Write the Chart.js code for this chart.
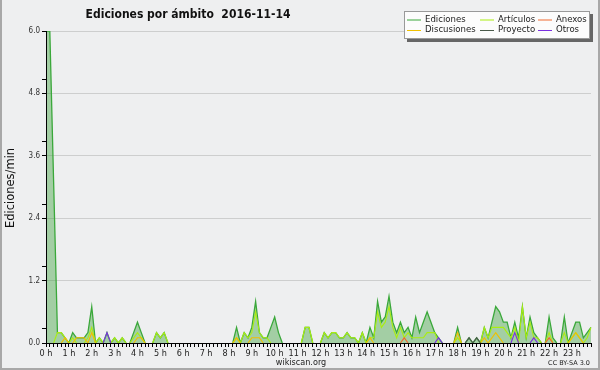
<!DOCTYPE html>
<html>
<head>
<meta charset="utf-8">
<script src="https://cdn.jsdelivr.net/npm/chart.js@4.4.1/dist/chart.umd.min.js"></script>
<style>
  body { margin: 0; background: #eeeff0; }
  canvas { display: block; }
</style>
</head>
<body>
<canvas id="chart" width="600" height="370"></canvas>
<script>
// 10-minute slots over the day, values in edits per minute
const slots = [];
for (let h = 0; h < 24; h++) {
    for (let m = 0; m < 60; m += 10) slots.push(h + ':' + String(m).padStart(2, '0'));
}

const ediciones = [
    6.0,6.0,3.1,0.2,0.2,0.1,0,0.2,0.1,0.1,0.1,0.2, 0.7,0,0.1,0,0.2,0,0.1,0,0.1,0,0,0.2,
    0.4,0.2,0,0,0,0.2,0.1,0.2,0,0,0,0, 0,0,0,0,0,0,0,0,0,0,0,0,
    0,0,0.3,0,0.2,0.1,0.3,0.8,0.2,0.1,0.1,0.3, 0.5,0.2,0,0,0,0,0,0,0.3,0.3,0,0,
    0,0.2,0.1,0.2,0.2,0.1,0.1,0.2,0.1,0.1,0,0.2, 0,0.3,0.1,0.8,0.4,0.5,0.9,0.4,0.2,0.4,0.2,0.3,
    0.1,0.5,0.2,0.4,0.6,0.4,0.2,0.1,0,0,0,0, 0.3,0,0,0.1,0,0.1,0,0.3,0.1,0.4,0.7,0.6,
    0.4,0.4,0.1,0.4,0.1,0.7,0.1,0.5,0.2,0.1,0,0, 0.5,0.1,0,0,0.5,0,0.2,0.4,0.4,0.1,0.2,0.3
];
const articulos = [
    0,0,0,0.2,0.2,0.1,0,0.1,0,0,0,0.1, 0.3,0,0.1,0,0,0,0.1,0,0.1,0,0,0.1,
    0.2,0.1,0,0,0,0.2,0.1,0.2,0,0,0,0, 0,0,0,0,0,0,0,0,0,0,0,0,
    0,0,0.1,0,0.2,0.1,0.2,0.6,0.2,0.1,0.1,0, 0,0,0,0,0,0,0,0,0.3,0.3,0,0,
    0,0.2,0.1,0.2,0.2,0.1,0.1,0.2,0.1,0.1,0,0.2, 0,0.1,0.1,0.6,0.3,0.4,0.7,0.3,0.1,0.3,0.1,0.2,
    0.1,0.1,0.1,0.1,0.2,0.2,0.2,0,0,0,0,0, 0.1,0,0,0,0,0,0,0.3,0.1,0.3,0.3,0.3,
    0.3,0.2,0.1,0.3,0,0.7,0.1,0.4,0.1,0.1,0,0, 0.2,0,0,0,0.2,0,0.1,0.2,0.1,0,0.1,0.3
];
const discusiones = [
    0,0,0,0,0,0.1,0,0,0.1,0.1,0.1,0, 0.2,0,0,0,0,0,0,0,0,0,0,0,
    0.1,0.1,0,0,0,0,0,0,0,0,0,0, 0,0,0,0,0,0,0,0,0,0,0,0,
    0,0,0.1,0,0,0,0.1,0.1,0.1,0,0,0, 0,0,0,0,0,0,0,0,0,0,0,0,
    0,0,0,0,0,0,0,0,0,0,0,0, 0,0.1,0,0,0,0,0,0,0,0,0,0,
    0,0,0,0,0,0,0,0,0,0,0,0, 0.2,0,0,0,0,0,0,0.1,0,0.1,0.2,0.1,
    0,0,0,0,0,0,0,0,0,0,0,0, 0,0,0,0,0,0,0.1,0.2,0.1,0,0,0
];
const anexos = [
    0,0,0,0,0,0,0,0,0,0,0,0, 0,0,0,0,0,0,0,0,0,0,0,0,
    0,0,0,0,0,0,0,0,0,0,0,0, 0,0,0,0,0,0,0,0,0,0,0,0,
    0,0,0,0,0,0,0,0,0,0,0,0, 0,0,0,0,0,0,0,0,0,0,0,0,
    0,0,0,0,0,0,0,0,0,0,0,0, 0,0,0,0,0,0,0,0,0,0,0.1,0,
    0,0,0,0,0,0,0,0,0,0,0,0, 0,0,0,0,0,0,0,0,0,0,0,0,
    0,0,0,0,0,0,0,0,0,0,0,0, 0.1,0,0,0,0,0,0,0,0,0,0,0
];
const proyecto = [
    0,0,0,0,0,0,0,0,0,0,0,0, 0,0,0,0,0,0,0,0,0,0,0,0,
    0,0,0,0,0,0,0,0,0,0,0,0, 0,0,0,0,0,0,0,0,0,0,0,0,
    0,0,0,0,0,0,0,0,0,0,0,0, 0,0,0,0,0,0,0,0,0,0,0,0,
    0,0,0,0,0,0,0,0,0,0,0,0, 0,0,0,0,0,0,0,0,0,0,0,0,
    0,0,0,0,0,0,0,0,0,0,0,0, 0,0,0,0.1,0,0.1,0,0,0,0,0,0,
    0,0,0,0,0,0,0,0,0,0,0,0, 0,0,0,0,0,0,0,0,0,0,0,0
];
const otros = [
    0,0,0,0,0,0,0,0,0,0,0,0, 0,0,0,0,0.2,0,0,0,0,0,0,0,
    0,0,0,0,0,0,0,0,0,0,0,0, 0,0,0,0,0,0,0,0,0,0,0,0,
    0,0,0,0,0,0,0,0,0,0,0,0, 0,0,0,0,0,0,0,0,0,0,0,0,
    0,0,0,0,0,0,0,0,0,0,0,0, 0,0,0,0,0,0,0,0,0,0,0,0,
    0,0,0,0,0,0,0,0.1,0,0,0,0, 0,0,0,0,0,0,0,0,0,0,0,0,
    0,0,0,0.2,0,0,0,0,0.1,0,0,0, 0,0,0,0,0,0,0,0,0,0,0,0
];

const yLabels = [0, 1.2, 2.4, 3.6, 4.8, 6.0];
const yMinor = [0.27, 1.47, 2.67, 3.87, 5.07];

const BG = '#eeeff0';
const COND = '"DejaVu Sans Condensed", "DejaVu Sans", sans-serif';

const series = [
    { label: 'Ediciones', data: ediciones, color: '#3aa83a', fill: 'rgba(60,160,60,0.42)' },
    { label: 'Artículos', data: articulos, color: '#aaee11' },
    { label: 'Discusiones', data: discusiones, color: '#f0c000' },
    { label: 'Anexos', data: anexos, color: '#f06a30' },
    { label: 'Proyecto', data: proyecto, color: '#4a5a4a' },
    { label: 'Otros', data: otros, color: '#7a30e0' }
];

// segments lying flat on zero are hidden (they would sit on the axis)
const hideFlatZero = ctx =>
    (ctx.p0.parsed.y === 0 && ctx.p1.parsed.y === 0 ? 'rgba(0,0,0,0)' : undefined);

// background, frame, title, legend and credits
const decor = {
    id: 'decor',
    beforeDraw(chart) {
        const c = chart.ctx;
        c.save();
        c.fillStyle = BG;
        c.fillRect(0, 0, 600, 370);
        c.fillStyle = '#a8a8a8';
        c.fillRect(0, 0, 2, 370);
        c.fillRect(598, 0, 2, 370);
        c.fillRect(0, 368, 600, 2);
        c.restore();
    },
    afterDraw(chart) {
        const c = chart.ctx;
        c.save();
        c.fillStyle = '#111';
        c.font = 'bold 12px ' + COND;
        c.textAlign = 'center';
        c.textBaseline = 'alphabetic';
        c.fillText('Ediciones por ámbito  2016-11-14', 188, 18);

        c.save();
        c.translate(11, 188);
        c.rotate(-Math.PI / 2);
        c.font = '11.5px "DejaVu Sans", sans-serif';
        c.textBaseline = 'middle';
        c.fillText('Ediciones/min', 0, 0);
        c.restore();

        c.font = '9px ' + COND;
        c.fillStyle = '#222';
        c.fillText('wikiscan.org', 301, 365);
        c.font = '6.5px "DejaVu Sans", sans-serif';
        c.textAlign = 'right';
        c.fillText('CC BY-SA 3.0', 590, 365);

        // legend
        c.fillStyle = '#666';
        c.fillRect(407, 14, 186, 28);
        c.fillStyle = '#fcfcfc';
        c.fillRect(404, 11, 186, 28);
        c.strokeStyle = '#999';
        c.lineWidth = 1;
        c.strokeRect(404.5, 11.5, 185, 27);
        const cols = [407, 480, 538];
        const rows = [19.5, 30];
        const order = [[0, 1, 3], [2, 4, 5]];
        c.font = '9.5px ' + COND;
        c.textAlign = 'left';
        c.textBaseline = 'middle';
        order.forEach((row, r) => {
            row.forEach((si, k) => {
                const s = series[si];
                c.strokeStyle = s.color;
                c.beginPath();
                c.moveTo(cols[k], rows[r] + 0.5);
                c.lineTo(cols[k] + 14, rows[r] + 0.5);
                c.stroke();
                c.fillStyle = '#222';
                c.fillText(s.label, cols[k] + 18, rows[r]);
            });
        });
        c.restore();
    }
};

new Chart(document.getElementById('chart'), {
    type: 'line',
    data: {
        labels: slots,
        datasets: series.map((s, i) => ({
            label: s.label,
            data: s.data,
            borderColor: s.color,
            borderWidth: i === 0 ? 1.3 : 1.1,
            backgroundColor: s.fill || s.color,
            fill: s.fill ? 'origin' : false,
            pointRadius: 0,
            tension: 0,
            segment: { borderColor: hideFlatZero },
            order: series.length - i
        }))
    },
    options: {
        responsive: false,
        animation: false,
        devicePixelRatio: 1,
        layout: { padding: { top: 31, right: 9, left: 0, bottom: 0 } },
        plugins: {
            legend: { display: false },
            title: { display: false },
            tooltip: { enabled: false }
        },
        scales: {
            x: {
                type: 'category',
                afterFit: scale => { scale.height = 27; },
                border: { color: '#000', width: 1, z: 1 },
                grid: {
                    drawOnChartArea: false,
                    tickLength: 4,
                    tickColor: '#000',
                    color: '#000'
                },
                ticks: {
                    autoSkip: false,
                    maxRotation: 0,
                    padding: 1,
                    color: '#222',
                    font: { family: COND, size: 9 },
                    callback: (v, i) => (i % 6 === 0 ? (i / 6) + ' h' : '')
                }
            },
            y: {
                min: 0,
                max: 6,
                afterFit: scale => { scale.width = 46; },
                afterBuildTicks: scale => {
                    scale.ticks = yLabels.concat(yMinor).sort((a, b) => a - b).map(v => ({ value: v }));
                },
                border: { color: '#000', width: 1, z: 1 },
                grid: {
                    tickLength: 4,
                    tickColor: '#000',
                    color: ctx => (ctx.tick && yLabels.includes(ctx.tick.value) ? '#cdcece' : 'rgba(0,0,0,0)')
                },
                ticks: {
                    padding: 2,
                    color: '#333',
                    font: { family: COND, size: 8 },
                    callback: v => (yLabels.includes(v) ? v.toFixed(1) : '')
                }
            }
        }
    },
    plugins: [decor]
});
</script>
</body>
</html>
